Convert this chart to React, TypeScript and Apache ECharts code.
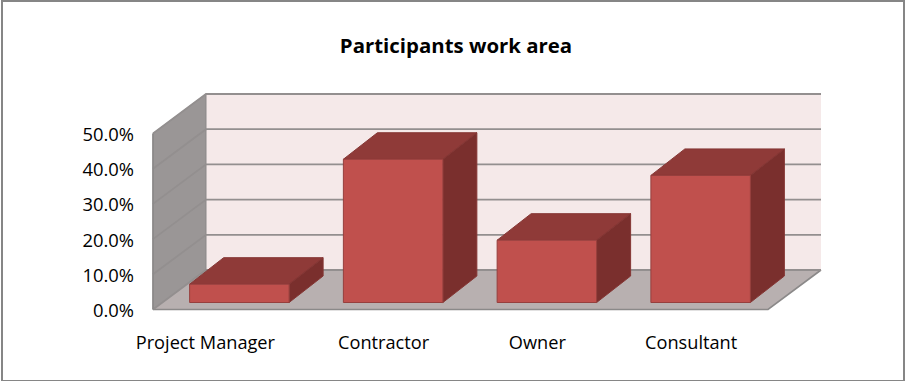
import React, { useEffect, useRef } from "react";
import * as echarts from "echarts";

const categories = ["Project Manager", "Contractor", "Owner", "Consultant"];
const values = [5.2, 40.7, 17.7, 36.1];
const yTicks = [0, 10, 20, 30, 40, 50];
const titleText = "Participants work area";

const FONT = "Open Sans";
const DEPTH_X = 53;
const DEPTH_Y = 39.5;
const BAR_SHIFT_X = 9.5;
const BAR_SHIFT_Y = 7;
const BAR_DEPTH_X = 34;
const BAR_DEPTH_Y = 26.5;
const EDGE = "#8b8989";
const GRID_LINE = "#938f8f";

export default function App() {
  const ref = useRef<HTMLDivElement>(null);
  useEffect(() => {
    const chart = echarts.init(ref.current!, undefined, { renderer: "svg" });

    const wallItem = (params: any, api: any) => {
      const cs = params.coordSys;
      const left = cs.x;
      const right = cs.x + cs.width;
      const bottom = cs.y + cs.height;
      const top = cs.y;
      const children: any[] = [
        {
          type: "polygon",
          shape: { points: [[left + DEPTH_X, top - DEPTH_Y], [right + DEPTH_X, top - DEPTH_Y], [right + DEPTH_X, bottom - DEPTH_Y], [left + DEPTH_X, bottom - DEPTH_Y]] },
          style: { fill: "#f5e9e9" },
        },
        {
          type: "polygon",
          shape: { points: [[left, top], [left + DEPTH_X, top - DEPTH_Y], [left + DEPTH_X, bottom - DEPTH_Y], [left, bottom]] },
          style: { fill: "#9a9696", stroke: EDGE, lineWidth: 1 },
        },
        {
          type: "polygon",
          shape: { points: [[left, bottom], [left + DEPTH_X, bottom - DEPTH_Y], [right + DEPTH_X, bottom - DEPTH_Y], [right, bottom]] },
          style: { fill: "#b8b0b0" },
        },
        {
          type: "polyline",
          shape: { points: [[left, bottom], [right, bottom], [right + DEPTH_X, bottom - DEPTH_Y]] },
          style: { fill: "none", stroke: EDGE, lineWidth: 1.6 },
        },
      ];
      yTicks.forEach((t) => {
        const y = api.coord([0, t])[1];
        children.push({
          type: "polyline",
          shape: { points: [[left, y], [left + DEPTH_X, y - DEPTH_Y], [right + DEPTH_X, y - DEPTH_Y]] },
          style: { fill: "none", stroke: GRID_LINE, lineWidth: 1.8 },
        });
      });
      children.push({
        type: "line",
        shape: { x1: left, y1: top, x2: left, y2: bottom },
        style: { stroke: EDGE, lineWidth: 1.6 },
      });
      return { type: "group", children };
    };

    const barItem = (_: any, api: any) => {
      const cat = api.value(0);
      const val = api.value(1);
      const w = api.size([1, 0])[0] * 0.647;
      const cx = api.coord([cat, 0])[0] + BAR_SHIFT_X;
      const y0 = api.coord([cat, 0])[1] - BAR_SHIFT_Y;
      const y1 = api.coord([cat, val])[1] - BAR_SHIFT_Y;
      const l = cx - w / 2;
      const r = cx + w / 2;
      const dx = BAR_DEPTH_X;
      const dy = BAR_DEPTH_Y;
      return {
        type: "group",
        children: [
          {
            type: "polygon",
            shape: { points: [[l, y1], [l + dx, y1 - dy], [r + dx, y1 - dy], [r, y1]] },
            style: { fill: "#8f3a38", stroke: "#853634", lineWidth: 1 },
          },
          {
            type: "polygon",
            shape: { points: [[r, y1], [r + dx, y1 - dy], [r + dx, y0 - dy], [r, y0]] },
            style: { fill: "#7a2f2d", stroke: "#853634", lineWidth: 1 },
          },
          {
            type: "rect",
            shape: { x: l, y: y1, width: w, height: y0 - y1 },
            style: { fill: "#c0504d", stroke: "#963f3d", lineWidth: 1 },
          },
        ],
      };
    };

    chart.setOption({
      animation: false,
      backgroundColor: "#ffffff",
      title: {
        text: titleText,
        left: 451,
        top: 30,
        textAlign: "center",
        textStyle: { fontFamily: FONT, fontWeight: "bold", fontSize: 20.4, color: "#000000" },
      },
      graphic: [
        {
          type: "rect",
          silent: true,
          z: -1,
          shape: { x: 2, y: 1, width: 902, height: 380 },
          style: { fill: "none", stroke: "#868686", lineWidth: 2 },
        },
      ],
      grid: { left: 153, top: 133.5, width: 615, height: 176, containLabel: false },
      xAxis: {
        type: "category",
        data: categories.map((c, i) =>
          i === 0 ? { value: c, textStyle: { padding: [0, 49, 0, 0] } } : c
        ),
        axisLine: { show: false },
        axisTick: { show: false },
        axisLabel: { fontFamily: FONT, fontSize: 18.2, color: "#000000", margin: 23, interval: 0 },
      },
      yAxis: {
        type: "value",
        min: 0,
        max: 50,
        interval: 10,
        axisLine: { show: false },
        axisTick: { show: false },
        splitLine: { show: false },
        axisLabel: {
          fontFamily: FONT,
          fontSize: 18.4,
          color: "#000000",
          margin: 19,
          padding: [2, 0, 0, 0],
          formatter: (v: number) => v.toFixed(1) + "%",
        },
      },
      series: [
        {
          type: "custom",
          renderItem: wallItem,
          data: [[0, 0]],
          clip: false,
          silent: true,
          z: 1,
        },
        {
          type: "custom",
          renderItem: barItem,
          data: values.map((v, i) => [i, v]),
          encode: { x: 0, y: 1 },
          clip: false,
          z: 2,
        },
      ],
    });
    return () => chart.dispose();
  }, []);
  return <div ref={ref} style={{ position: "absolute", left: 0, top: 0, width: 905, height: 381 }} />;
}
